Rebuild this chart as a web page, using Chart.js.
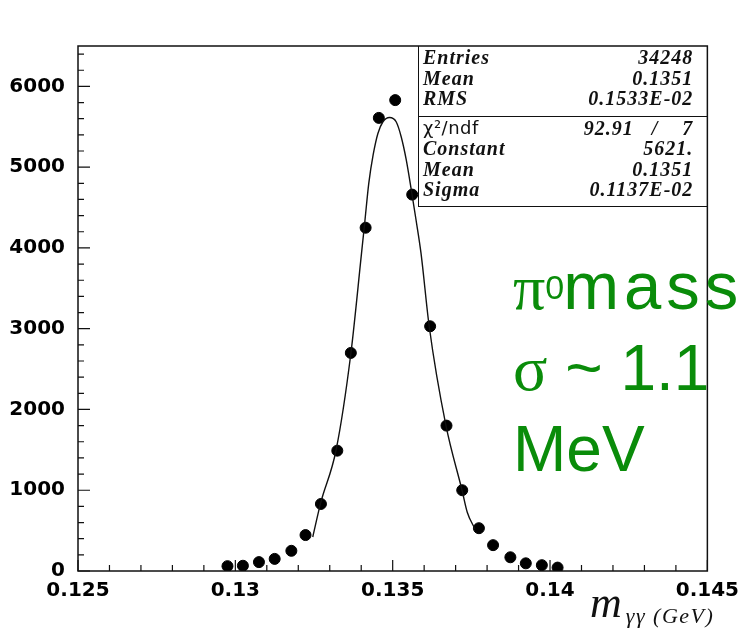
<!DOCTYPE html>
<html>
<head>
<meta charset="utf-8">
<script src="https://cdn.jsdelivr.net/npm/chart.js@4.4.0/dist/chart.umd.min.js"></script>
<style>
    body { margin: 0; background: #fff; }
    #wrap { position: relative; width: 747px; height: 628px; overflow: hidden; }
    #graphic { position: absolute; left: 0; top: 0; }
    #stats { position: absolute; left: 418px; top: 46px; width: 290px; height: 161px; border-left: 1.5px solid #111; border-bottom: 1.5px solid #111; box-sizing: border-box; }
    #stats .row { position: absolute; left: 4px; right: 14px; height: 20px; line-height: 20px; display: flex; justify-content: space-between; font: italic bold 20px "Liberation Serif"; color: #111; white-space: pre; letter-spacing: 1px; }
    #stats .sep { position: absolute; left: 0; right: 0; top: 70px; border-top: 1.5px solid #111; }
    #stats .chi { font: 18px "DejaVu Sans"; font-style: normal; font-weight: normal; letter-spacing: 0.5px; }
    .green { position: absolute; left: 513px; top: 246px; font: 64px "Liberation Sans"; line-height: 80px; color: #0a8c0a; white-space: nowrap; }
    .green .sym { font-family: "Liberation Serif"; }
    .green sup { font-size: 34px; vertical-align: 10px; line-height: 0; }
    .green .mass { font-size: 67px; letter-spacing: 5px; margin-left: -1px; }
    .xtitle { position: absolute; left: 590px; top: 577px; font-family: "Liberation Serif"; font-style: italic; color: #111; white-space: nowrap; }
    .xtitle .m { font-size: 44px; }
    .xtitle .sub { font-size: 22px; letter-spacing: 1.5px; position: relative; top: 6px; margin-left: 4px; }
</style>
</head>
<body>
<div id="wrap">
    <canvas id="graphic" width="747" height="628"></canvas>
    <div id="stats">
        <div class="row" style="top:0px"><span>Entries</span><span>34248</span></div>
        <div class="row" style="top:21px"><span>Mean</span><span>0.1351</span></div>
        <div class="row" style="top:41px"><span>RMS</span><span>0.1533E-02</span></div>
        <div class="sep"></div>
        <div class="row" style="top:71px"><span class="chi">χ²/ndf</span><span>92.91   /    7</span></div>
        <div class="row" style="top:91px"><span>Constant</span><span>5621.</span></div>
        <div class="row" style="top:112px"><span>Mean</span><span>0.1351</span></div>
        <div class="row" style="top:132px"><span>Sigma</span><span>0.1137E-02</span></div>
    </div>
    <div class="green"><span class="sym">π</span><sup>0</sup><span class="mass">mass</span><br><span class="sym">σ</span> ~ 1.1<br>MeV</div>
    <div class="xtitle"><span class="m">m</span><span class="sub">γγ (GeV)</span></div>
</div>
<script>
// histogram points
const massX = [0.12975, 0.13024, 0.13075, 0.13125, 0.13178, 0.13223, 0.13272, 0.13324, 0.13367, 0.13414, 0.13456,
    0.13508, 0.13562, 0.13619, 0.13671, 0.13721, 0.13774, 0.13819, 0.13874, 0.13923, 0.13974, 0.14024];
const counts = [60, 65, 110, 150, 250, 445, 830, 1490, 2700, 4250, 5610,
    5830, 4660, 3030, 1800, 1000, 530, 320, 170, 95, 72, 42];

// gaussian fit curve, traced
const fitX = [0.13246, 0.13271, 0.13320, 0.13367, 0.13401, 0.13411, 0.13424, 0.13438, 0.13453, 0.13469, 0.13490,
    0.13511, 0.13527, 0.13543, 0.13559, 0.13574, 0.13590, 0.13616, 0.13669, 0.13721, 0.13737, 0.13761];
const fitY = [421, 840, 1495, 2690, 3935, 4306, 4800, 5154, 5417, 5562, 5615,
    5562, 5377, 5093, 4722, 4352, 3936, 3030, 1805, 990, 728, 524];

const xTicks = [0.125, 0.13, 0.135, 0.14, 0.145];
const yTicks = [0, 1000, 2000, 3000, 4000, 5000, 6000];

const graphic = document.getElementById('graphic');
const stats = document.getElementById('stats');

// frame + inward PAW style ticks
const frameTicks = {
    id: 'frameTicks',
    afterDraw(chart) {
        const ctx = chart.ctx;
        const a = chart.chartArea;
        const x = chart.scales.x;
        const y = chart.scales.y;
        ctx.save();
        ctx.strokeStyle = '#111';
        ctx.lineWidth = 1.5;
        ctx.strokeRect(a.left, a.top, a.right - a.left, a.bottom - a.top);
        ctx.lineWidth = 1.2;
        ctx.beginPath();
        for (let i = 0; i <= 20; i++) {
            const px = x.getPixelForValue(0.125 + i * 0.001);
            const len = i % 5 === 0 ? 11 : 6;
            ctx.moveTo(px, a.bottom);
            ctx.lineTo(px, a.bottom - len);
        }
        for (let i = 0; i <= 32; i++) {
            const py = y.getPixelForValue(i * 200);
            const len = i % 5 === 0 ? 12 : 6;
            ctx.moveTo(a.left, py);
            ctx.lineTo(a.left + len, py);
        }
        ctx.stroke();
        ctx.restore();
        // stats box hangs off the top right corner of the frame
        stats.style.top = a.top + 'px';
        stats.style.width = (a.right - 418) + 'px';
    }
};

const tickFont = { family: 'DejaVu Sans', weight: 'bold', size: 20 };

new Chart(graphic, {
    type: 'scatter',
    data: {
        datasets: [
            {
                label: 'fit',
                data: fitX.map((v, i) => ({ x: v, y: fitY[i] })),
                showLine: true,
                borderColor: '#111',
                borderWidth: 1.4,
                pointRadius: 0,
                cubicInterpolationMode: 'monotone'
            },
            {
                label: 'm_gg',
                data: massX.map((v, i) => ({ x: v, y: counts[i] })),
                backgroundColor: '#000',
                borderColor: '#000',
                pointRadius: 5.5,
                pointHoverRadius: 5.5
            }
        ]
    },
    options: {
        responsive: false,
        animation: false,
        layout: { padding: { top: 46, right: 32, left: 0, bottom: 0 } },
        plugins: { legend: { display: false }, tooltip: { enabled: false } },
        scales: {
            x: {
                type: 'linear',
                min: 0.125,
                max: 0.145,
                afterBuildTicks: (s) => { s.ticks = xTicks.map((v) => ({ value: v })); },
                afterFit: (s) => { s.height = 57; },
                grid: { display: false, drawTicks: false },
                border: { display: false },
                ticks: { color: '#000', font: tickFont, padding: 8, maxRotation: 0, autoSkip: false, callback: (v) => String(v) }
            },
            y: {
                min: 0,
                max: 6500,
                afterBuildTicks: (s) => { s.ticks = yTicks.map((v) => ({ value: v })); },
                afterFit: (s) => { s.width = 78; },
                grid: { display: false, drawTicks: false },
                border: { display: false },
                ticks: { color: '#000', font: tickFont, padding: 13, callback: (v) => String(v) }
            }
        }
    },
    plugins: [frameTicks]
});
</script>
</body>
</html>
